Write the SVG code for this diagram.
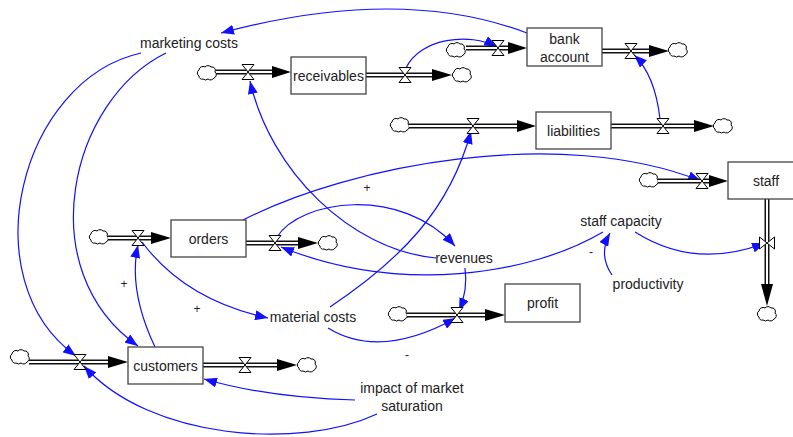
<svg xmlns="http://www.w3.org/2000/svg" xmlns:xlink="http://www.w3.org/1999/xlink" width="793" height="437" viewBox="0 0 793 437">
<style>
text{font-family:"Liberation Sans",Arial,sans-serif;font-size:14px;fill:#222;text-anchor:middle}
.sign{font-size:12px}
.stock{fill:#fff;stroke:#444;stroke-width:1.3}
.link{fill:none;stroke:#1010ff;stroke-width:1.2;marker-end:url(#ba)}
.pipeo{fill:none;stroke:#111;stroke-width:5}
.pipei{fill:none;stroke:#fff;stroke-width:2}
.head{fill:#000}
.cloud{fill:#fff;stroke:#000;stroke-width:1}
.valve{fill:#fff;stroke:#000;stroke-width:1}
</style>
<defs>
<marker id="ba" markerUnits="userSpaceOnUse" markerWidth="14" markerHeight="10" refX="13" refY="5" orient="auto">
<path d="M0,0 L13,5 L0,10 z" fill="#1010ff"/>
</marker>
<path id="cloud" class="cloud" d="M-8,3 a3.5,3.5 0 0 1 0,-6 a4,4 0 0 1 6,-3 a4,4 0 0 1 6,0 a3.5,3.5 0 0 1 4,5 a3.5,3.5 0 0 1 -1,6 a4,4 0 0 1 -6,1 a4,4 0 0 1 -5,0 a3,3 0 0 1 -4,-3 z"/>
<path id="valve" class="valve" d="M-6,-7.5 L6,-7.5 L0,0 z M-6,7.5 L6,7.5 L0,0 z"/>
</defs>

<g id="connectors">
<path class="link" d="M527,33 Q400,-15 221,33"/>
<path class="link" d="M141,53 C20,80 -30,280 76,356"/>
<path class="link" d="M166,53 C70,100 30,270 138,346"/>
<path class="link" d="M155,347 Q128,290 138,245"/>
<path class="link" d="M142,242 Q185,300 268,318"/>
<path class="link" d="M243,220 C350,165 560,125 701,181"/>
<path class="link" d="M406,68 C420,38 470,32 497,47"/>
<path class="link" d="M660,119 Q655,75 634,55"/>
<path class="link" d="M330,307 C400,260 450,210 471,131"/>
<path class="link" d="M328,328 Q380,360 456,318"/>
<path class="link" d="M465,268 Q468,290 459,311"/>
<path class="link" d="M277,237 C300,200 400,185 455,246"/>
<path class="link" d="M603,232 C530,275 400,295 281,247"/>
<path class="link" d="M436,258 C350,250 270,170 250,81"/>
<path class="link" d="M635,232 Q695,270 765,243"/>
<path class="link" d="M612,275 Q598,255 610,233"/>
<path class="link" d="M355,400 Q270,398 204,379"/>
<path class="link" d="M377,414 C300,450 150,440 84,366"/>
</g>

<g id="flows">
<g id="flow-receivables-in"><use xlink:href="#cloud" x="207" y="73"/><path class="pipeo" d="M216,72 H273"/><path class="pipei" d="M216,72 H273"/><polygon class="head" points="272,66 291,72 272,78"/><use xlink:href="#valve" x="248" y="72"/></g>
<g id="flow-receivables-out"><path class="pipeo" d="M366,75 H433"/><path class="pipei" d="M366,75 H433"/><polygon class="head" points="432,69 452,75 432,81"/><use xlink:href="#cloud" x="462" y="75"/><use xlink:href="#valve" x="405" y="75"/></g>
<g id="flow-bank-in"><use xlink:href="#cloud" x="456" y="50"/><path class="pipeo" d="M466,48 H509"/><path class="pipei" d="M466,48 H509"/><polygon class="head" points="508,42 527,48 508,54"/><use xlink:href="#valve" x="498" y="48"/></g>
<g id="flow-bank-out"><path class="pipeo" d="M602,51 H650"/><path class="pipei" d="M602,51 H650"/><polygon class="head" points="649,45 669,51 649,57"/><use xlink:href="#cloud" x="678" y="50"/><use xlink:href="#valve" x="631" y="51"/></g>
<g id="flow-liabilities-in"><use xlink:href="#cloud" x="400" y="125"/><path class="pipeo" d="M409,126 H518"/><path class="pipei" d="M409,126 H518"/><polygon class="head" points="517,120 536,126 517,132"/><use xlink:href="#valve" x="473" y="126"/></g>
<g id="flow-liabilities-out"><path class="pipeo" d="M611,126 H695"/><path class="pipei" d="M611,126 H695"/><polygon class="head" points="694,120 714,126 694,132"/><use xlink:href="#cloud" x="723" y="126"/><use xlink:href="#valve" x="663" y="126"/></g>
<g id="flow-orders-in"><use xlink:href="#cloud" x="99" y="237"/><path class="pipeo" d="M108,238 H152"/><path class="pipei" d="M108,238 H152"/><polygon class="head" points="151,232 171,238 151,244"/><use xlink:href="#valve" x="138" y="238"/></g>
<g id="flow-orders-out"><path class="pipeo" d="M246,243 H299"/><path class="pipei" d="M246,243 H299"/><polygon class="head" points="298,237 318,243 298,249"/><use xlink:href="#cloud" x="328" y="243"/><use xlink:href="#valve" x="275" y="243"/></g>
<g id="flow-staff-in"><use xlink:href="#cloud" x="649" y="180"/><path class="pipeo" d="M658,181 H710"/><path class="pipei" d="M658,181 H710"/><polygon class="head" points="709,175 728,181 709,187"/><use xlink:href="#valve" x="702" y="181"/></g>
<g id="flow-staff-out"><path class="pipeo" d="M767,199 V285"/><path class="pipei" d="M767,199 V285"/><polygon class="head" points="761,284 767,306 773,284"/><use xlink:href="#cloud" x="767" y="314"/><use xlink:href="#valve" transform="translate(767,243) rotate(90)"/></g>
<g id="flow-profit-in"><use xlink:href="#cloud" x="398" y="314"/><path class="pipeo" d="M407,315 H486"/><path class="pipei" d="M407,315 H486"/><polygon class="head" points="485,309 505,315 485,321"/><use xlink:href="#valve" x="457" y="315"/></g>
<g id="flow-customers-in"><use xlink:href="#cloud" x="20" y="357"/><path class="pipeo" d="M29,362 H109"/><path class="pipei" d="M29,362 H109"/><polygon class="head" points="108,356 128,362 108,368"/><use xlink:href="#valve" x="80" y="362"/></g>
<g id="flow-customers-out"><path class="pipeo" d="M203,365 H278"/><path class="pipei" d="M203,365 H278"/><polygon class="head" points="277,359 297,365 277,371"/><use xlink:href="#cloud" x="307" y="365"/><use xlink:href="#valve" x="245" y="365"/></g>
</g>

<g id="receivables"><rect class="stock" x="291" y="57" width="75" height="37"/><text x="328.5" y="80.5">receivables</text></g>
<g id="bank-account"><rect class="stock" x="527" y="28" width="75" height="38"/><text x="564.5" y="44">bank</text><text x="564.5" y="62">account</text></g>
<g id="liabilities"><rect class="stock" x="536" y="112" width="75" height="37"/><text x="573.5" y="135.5">liabilities</text></g>
<g id="orders"><rect class="stock" x="171" y="220" width="75" height="37"/><text x="208.5" y="243.5">orders</text></g>
<g id="staff"><rect class="stock" x="728" y="162" width="77" height="37"/><text x="766" y="185.5">staff</text></g>
<g id="profit"><rect class="stock" x="505" y="284" width="75" height="38"/><text x="542.5" y="308">profit</text></g>
<g id="customers"><rect class="stock" x="128" y="347" width="75" height="37"/><text x="165.5" y="370.5">customers</text></g>

<g id="marketing-costs"><text x="189" y="48">marketing costs</text></g>
<g id="staff-capacity"><text x="621" y="226">staff capacity</text></g>
<g id="revenues"><text x="464" y="263">revenues</text></g>
<g id="productivity"><text x="648" y="289">productivity</text></g>
<g id="material-costs"><text x="313" y="322">material costs</text></g>
<g id="impact-of-market-saturation"><text x="412" y="393">impact of market</text><text x="412" y="411">saturation</text></g>

<g id="signs">
<text class="sign" x="367" y="192">+</text>
<text class="sign" x="124" y="288">+</text>
<text class="sign" x="197" y="313">+</text>
<text class="sign" x="591" y="256">-</text>
<text class="sign" x="407" y="359">-</text>
</g>
</svg>
